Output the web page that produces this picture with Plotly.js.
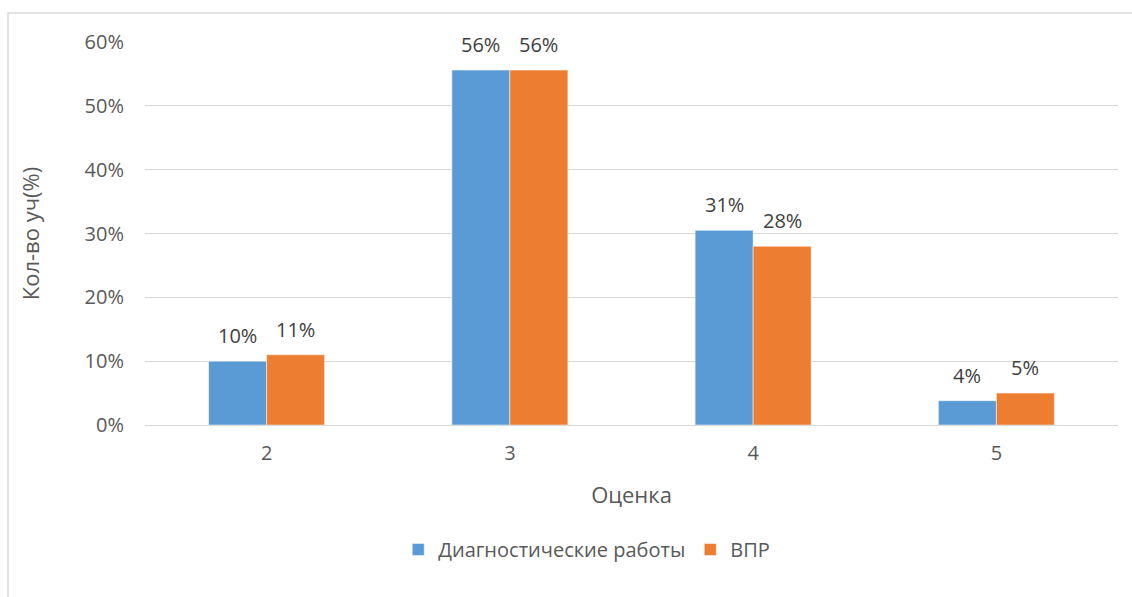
<!DOCTYPE html>
<html>
<head>
<meta charset="utf-8">
<script src="https://cdn.plot.ly/plotly-3.0.1.min.js"></script>
<style>html,body{margin:0;padding:0;background:#fff;}#chart{width:1132px;height:597px;}</style>
</head>
<body>
<div id="chart"></div>
<script>
const categories = ["2", "3", "4", "5"];
const diagValues = [0.10, 0.556, 0.305, 0.038];
const vprValues = [0.11, 0.556, 0.28, 0.05];
const diagLabels = ["10%", "56%", "31%", "4%"];
const vprLabels = ["11%", "56%", "28%", "5%"];
const seriesNames = ["Диагностические работы", "ВПР"];
const yTickVals = [0, 0.1, 0.2, 0.3, 0.4, 0.5, 0.6];
const yTickText = ["0%", "10%", "20%", "30%", "40%", "50%", "60%"];

const font = "'Open Sans', 'DejaVu Sans', sans-serif";
const blue = "#5B9BD5", orange = "#ED7D31";

const traces = [
  {type: "bar", name: seriesNames[0], x: categories, y: diagValues,
   marker: {color: blue, line: {color: "#ffffff", width: 0.5}}, hoverinfo: "none"},
  {type: "bar", name: seriesNames[1], x: categories, y: vprValues,
   marker: {color: orange, line: {color: "#ffffff", width: 0.5}}, hoverinfo: "none"}
];

const annotations = [];
categories.forEach((c, i) => {
  annotations.push({x: i, y: diagValues[i], xref: "x", yref: "y", text: diagLabels[i],
    showarrow: false, xshift: -29, yshift: 10, yanchor: "bottom",
    font: {family: font, size: 20, color: "#404040"}});
  annotations.push({x: i, y: vprValues[i], xref: "x", yref: "y", text: vprLabels[i],
    showarrow: false, xshift: 29, yshift: 10, yanchor: "bottom",
    font: {family: font, size: 20, color: "#404040"}});
});

const layout = {
  width: 1132, height: 597,
  margin: {l: 145, r: 14, t: 42, b: 172},
  paper_bgcolor: "#ffffff", plot_bgcolor: "#ffffff",
  font: {family: font, size: 20, color: "#595959"},
  barmode: "group", bargap: 0.523, bargroupgap: 0,
  xaxis: {
    type: "category", range: [-0.5, 3.5], autorange: false, showgrid: false, zeroline: false,
    showline: false, ticks: "", ticklabelstandoff: 14, tickfont: {size: 20, color: "#595959"},
    title: {text: "Оценка", font: {size: 22, color: "#595959"}, standoff: 22}
  },
  yaxis: {
    range: [0, 0.6], autorange: false, tickvals: yTickVals, ticktext: yTickText,
    showgrid: true, gridcolor: "#d9d9d9", gridwidth: 1, zeroline: true, zerolinecolor: "#d9d9d9", zerolinewidth: 1,
    showline: false, ticks: "", ticklabelstandoff: 20,
    tickfont: {size: 20, color: "#595959"},
    title: {text: "Кол-во уч(%)", font: {size: 22, color: "#595959"}, standoff: 38}
  },
  legend: {orientation: "h", x: 0.454, xanchor: "center", y: -0.325, yanchor: "middle",
    font: {size: 20, color: "#595959"}, itemwidth: 30, traceorder: "normal"},
  showlegend: true,
  annotations: annotations,
  shapes: [{type: "rect", xref: "paper", yref: "paper",
    x0: -137/973, x1: 1.1, y0: -0.6, y1: 1 + 29/383,
    line: {color: "#d9d9d9", width: 1.5}, fillcolor: "rgba(0,0,0,0)", layer: "below"}]
};

Plotly.newPlot("chart", traces, layout, {staticPlot: true, displayModeBar: false});
</script>
</body>
</html>
